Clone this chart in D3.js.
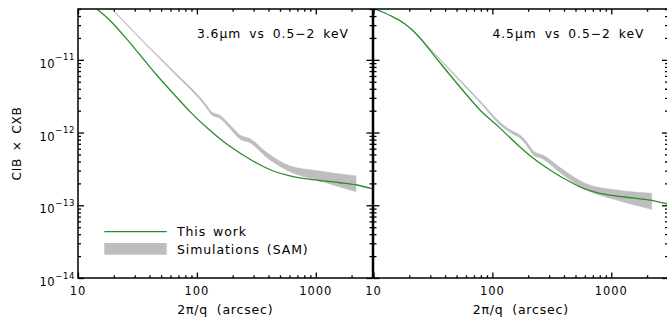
<!DOCTYPE html>
<html>
<head>
<meta charset="utf-8">
<script src="https://cdn.jsdelivr.net/npm/d3@7"></script>
<style>
body { margin: 0; background: #fff; }
text { font-family: "DejaVu Sans", sans-serif; fill: #000; }
</style>
</head>
<body>
<div id="chart"></div>
<script>
// tick values and labels
var xTicks = [10, 100, 1000];
var yExps = [-14, -13, -12, -11];
var panelLabels = ["3.6\u03bcm vs 0.5\u22122 keV", "4.5\u03bcm vs 0.5\u22122 keV"];
var legendLabels = ["This work", "Simulations (SAM)"];

// 3.6 micron panel
var work36X = [14.4, 18.6, 24.0, 33.2, 45.9, 63.3, 87.5, 121, 167, 230, 318, 440, 607, 839, 1157, 1600, 2208, 3000];
var work36Y = [5.0e-11, 3.48e-11, 2.20e-11, 1.17e-11, 6.18e-12, 3.44e-12, 1.94e-12, 1.17e-12, 7.53e-13, 5.24e-13, 3.81e-13, 2.96e-13, 2.53e-13, 2.30e-13, 2.16e-13, 2.04e-13, 1.90e-13, 1.68e-13];
var sim36X  = [20.5, 33.2, 63.4, 121, 133, 156, 190, 230, 280, 387, 607, 1019, 2178];
var sim36Hi = [4.58e-11, 2.01e-11, 7.05e-12, 2.36e-12, 1.92e-12, 1.73e-12, 1.27e-12, 9.25e-13, 8.23e-13, 5.31e-13, 3.47e-13, 2.99e-13, 2.53e-13];
var sim36Lo = [4.44e-11, 1.95e-11, 6.70e-12, 2.18e-12, 1.76e-12, 1.57e-12, 1.14e-12, 8.16e-13, 7.26e-13, 4.54e-13, 2.90e-13, 2.23e-13, 1.54e-13];

// 4.5 micron panel
var work45X = [10.3, 13.8, 18.4, 24.6, 32.9, 44.0, 58.9, 78.7, 116, 160, 221, 305, 421, 582, 803, 1110, 1531, 2117, 3000];
var work45Y = [5.0e-11, 4.07e-11, 3.11e-11, 2.0e-11, 1.11e-11, 6.18e-12, 3.50e-12, 2.04e-12, 1.15e-12, 6.97e-13, 4.43e-13, 3.06e-13, 2.23e-13, 1.71e-13, 1.46e-13, 1.34e-13, 1.26e-13, 1.18e-13, 1.04e-13];
var sim45X  = [20.9, 41.3, 78.7, 124, 150, 171, 195, 221, 268, 370, 621, 1110, 2188];
var sim45Hi = [2.70e-11, 8.2e-12, 2.74e-12, 1.26e-12, 1.03e-12, 9.2e-13, 7.34e-13, 5.55e-13, 4.86e-13, 3.31e-13, 1.96e-13, 1.62e-13, 1.46e-13];
var sim45Lo = [2.62e-11, 7.9e-12, 2.58e-12, 1.16e-12, 0.947e-12, 8.4e-13, 6.6e-13, 4.95e-13, 4.3e-13, 2.83e-13, 1.62e-13, 1.18e-13, 0.88e-13];

var width = 667, height = 323;
var top0 = 9, panelW = 294.5, panelH = 269;
var green = "#2a8c2a", band = "#bebebe";

var svg = d3.select("#chart").append("svg")
    .attr("width", width)
    .attr("height", height);

var x = d3.scaleLog().domain([10, 3000]).range([0, panelW]);
var y = d3.scaleLog().domain([1e-14, 5e-11]).range([panelH, 0]);

var xMinor = [], yMinor = [];
[10, 100, 1000].forEach(function(d) {
    for (var k = 2; k <= 9; k++) if (d * k <= 3000) xMinor.push(d * k);
});
yExps.forEach(function(e) {
    for (var k = 2; k <= 9; k++) if (k * Math.pow(10, e) <= 5e-11) yMinor.push(k * Math.pow(10, e));
});
var yMajor = yExps.map(function(e) { return Math.pow(10, e); });

function drawPanel(x0, idx, wx, wy, sx, slo, shi) {
    var g = svg.append("g").attr("transform", "translate(" + x0 + "," + top0 + ")");

    g.append("clipPath").attr("id", "clip" + idx)
        .append("rect").attr("width", panelW).attr("height", panelH);

    var plot = g.append("g").attr("clip-path", "url(#clip" + idx + ")");

    var simData = sx.map(function(d, i) { return [d, slo[i], shi[i]]; });
    plot.append("path")
        .datum(simData)
        .attr("fill", band)
        .attr("stroke", band)
        .attr("stroke-width", 0.6)
        .attr("d", d3.area()
            .x(function(d) { return x(d[0]); })
            .y0(function(d) { return y(d[1]); })
            .y1(function(d) { return y(d[2]); })
            .curve(d3.curveMonotoneX));

    var workData = wx.map(function(d, i) { return [d, wy[i]]; });
    plot.append("path")
        .datum(workData)
        .attr("fill", "none")
        .attr("stroke", green)
        .attr("stroke-width", 1.3)
        .attr("d", d3.line()
            .x(function(d) { return x(d[0]); })
            .y(function(d) { return y(d[1]); })
            .curve(d3.curveMonotoneX));

    // ticks, all pointing inward
    var axes = [
        [d3.axisBottom, "translate(0," + panelH + ")", x, xTicks, xMinor, -5.4],
        [d3.axisTop, "translate(0,0)", x, xTicks, xMinor, -5.4],
        [d3.axisLeft, "translate(0,0)", y, yMajor, yMinor, -6],
        [d3.axisRight, "translate(" + panelW + ",0)", y, yMajor, yMinor, -6]
    ];
    axes.forEach(function(a) {
        var maj = g.append("g").attr("transform", a[1])
            .call(a[0](a[2]).tickValues(a[3]).tickSize(a[5]).tickFormat(""));
        var mnr = g.append("g").attr("transform", a[1])
            .call(a[0](a[2]).tickValues(a[4]).tickSize(a[5] / 2).tickFormat(""));
        [maj, mnr].forEach(function(s) {
            s.select(".domain").remove();
            s.selectAll("line").attr("stroke", "#000").attr("stroke-width", 1.3);
        });
    });

    g.append("rect")
        .attr("width", panelW).attr("height", panelH)
        .attr("fill", "none").attr("stroke", "#000").attr("stroke-width", 1.5);

    // x tick labels
    g.selectAll(".xlab")
        .data(xTicks)
        .enter().append("text")
        .attr("class", "xlab")
        .attr("x", function(d) { return x(d); })
        .attr("y", panelH + 17)
        .attr("text-anchor", "middle")
        .style("font-size", "11.5px")
        .style("letter-spacing", "0.9px")
        .text(function(d) { return d; });

    // x title
    g.append("text")
        .attr("x", panelW / 2)
        .attr("y", panelH + 36)
        .attr("text-anchor", "middle")
        .style("font-size", "12.5px")
        .style("letter-spacing", "0.8px")
        .style("word-spacing", "4px")
        .text("2\u03c0/q  (arcsec)");

    // panel label
    g.append("text")
        .attr("x", x(100))
        .attr("y", 29)
        .style("font-size", "12.3px")
        .style("letter-spacing", "1px")
        .style("word-spacing", "3px")
        .text(panelLabels[idx]);

    return g;
}

var g1 = drawPanel(78, 0, work36X, work36Y, sim36X, sim36Lo, sim36Hi);
drawPanel(373.5, 1, work45X, work45Y, sim45X, sim45Lo, sim45Hi);

// y tick labels (left panel only)
yExps.forEach(function(e) {
    var t = g1.append("text")
        .attr("x", -3)
        .attr("y", y(Math.pow(10, e)) + 8)
        .attr("text-anchor", "end")
        .style("font-size", "11.5px")
        .style("letter-spacing", "0.6px");
    t.append("tspan").text("10");
    t.append("tspan")
        .attr("dy", -7.5)
        .style("font-size", "8.5px")
        .text("\u2212" + (-e));
});

// y title
svg.append("text")
    .attr("transform", "translate(21," + (top0 + panelH / 2) + ") rotate(-90)")
    .attr("text-anchor", "middle")
    .style("font-size", "12px")
    .style("letter-spacing", "0.8px")
    .style("word-spacing", "2px")
    .text("CIB \u00d7 CXB");

// legend
svg.append("line")
    .attr("x1", 104.3).attr("x2", 166.7)
    .attr("y1", 231.7).attr("y2", 231.7)
    .attr("stroke", green).attr("stroke-width", 1.3);
svg.append("rect")
    .attr("x", 104.3).attr("y", 243)
    .attr("width", 62.4).attr("height", 11.7)
    .attr("fill", band);
svg.selectAll(".leg")
    .data(legendLabels)
    .enter().append("text")
    .attr("class", "leg")
    .attr("x", 177)
    .attr("y", function(d, i) { return 236 + i * 17.5; })
    .style("font-size", "12.5px")
    .style("letter-spacing", "0.9px")
    .style("word-spacing", "2px")
    .text(function(d) { return d; });
</script>
</body>
</html>
